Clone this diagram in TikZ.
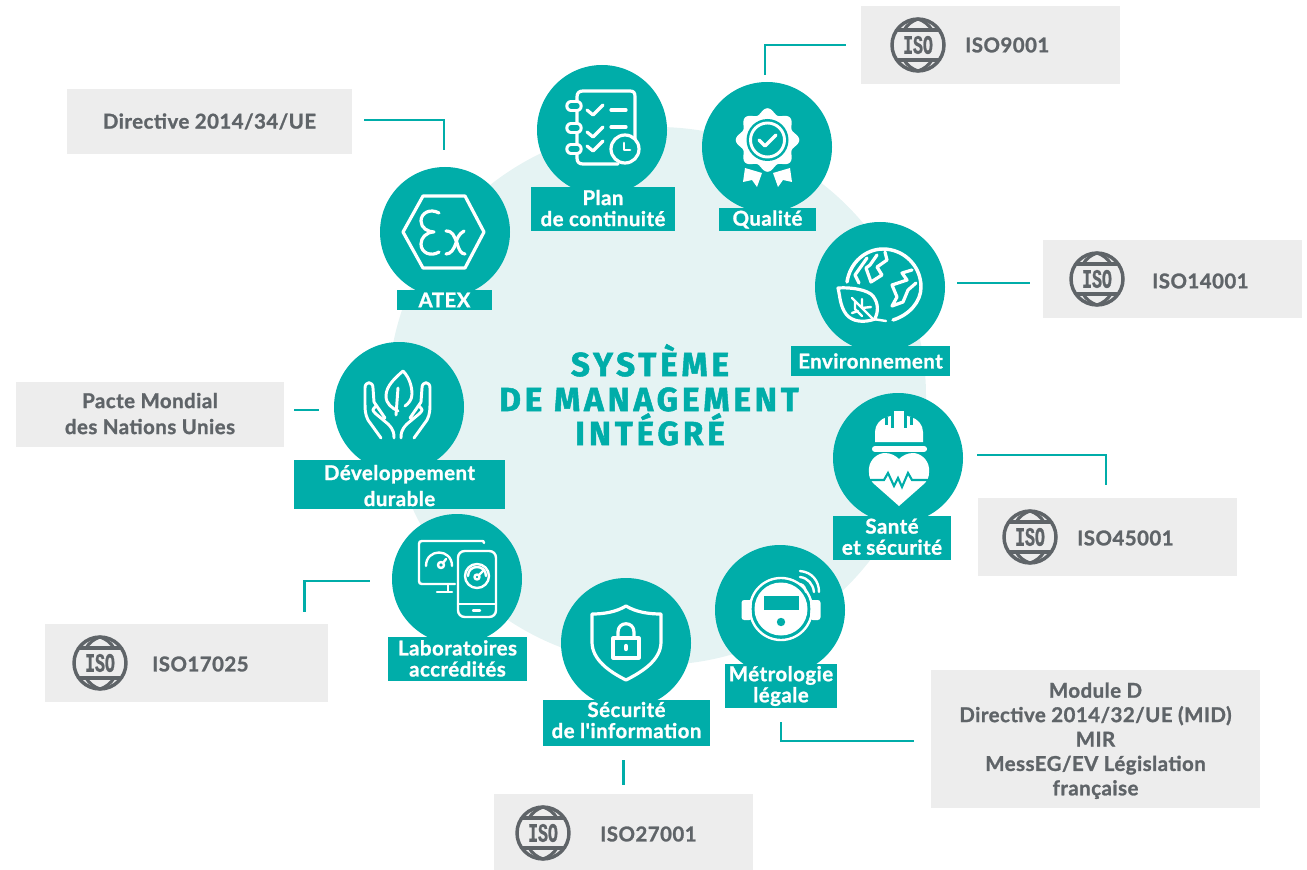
\documentclass[tikz,border=0pt]{standalone}
\usepackage{fontspec}
\setmainfont{Lato}[Ligatures=TeXOff,BoldFeatures={FakeBold=1.2,LetterSpace=2.4}]
\newfontfamily\titlefont[LetterSpace=11.5,BoldFeatures={FakeBold=1.5}]{Fira Sans}
\newfontfamily\isofont[FakeStretch=0.62,BoldFeatures={FakeBold=0.8}]{Liberation Mono}
\definecolor{tealc}{HTML}{00ADA9}
\definecolor{palec}{HTML}{E5F3F3}
\definecolor{boxc}{HTML}{EDEDED}
\definecolor{greyt}{HTML}{5F6468}
\newcommand{\lowdepth}[1]{\rule[-#1pt]{0pt}{0pt}}
\newcommand{\topheight}[1]{\rule{0pt}{#1pt}}
\tikzset{
 disc/.style={circle,fill=tealc,minimum size=97.5pt,inner sep=0pt},
 lab/.style={fill=tealc,text=white,inner sep=0pt,align=center,font=\fontsize{15.3}{15.8}\selectfont\bfseries},
 gbox/.style={fill=boxc,text=greyt,inner sep=0pt,align=center,font=\fontsize{15.3}{18.3}\selectfont\bfseries},
 conn/.style={draw=tealc,line width=1.6pt},
 ico/.style={draw=white,line width=2.4pt,line cap=round,line join=round},
 icob/.style={draw=white,line width=1.8pt,line cap=round,line join=round},
 icoT/.style={draw=tealc,line width=1.6pt,line cap=round,line join=round},
 isoname/.style={text=greyt,inner sep=0pt,anchor=west,font=\fontsize{15.3}{16}\selectfont\bfseries},
 titl/.style={text=tealc,inner sep=0pt,anchor=base,font=\fontsize{25}{26}\titlefont\bfseries},
 pics/isoglobe/.style={code={
   \draw[greyt,line width=2.6pt] (0,0) circle (26);
   \draw[greyt,line width=2.3pt] (-22,-15) -- (22,-15) (-22,15) -- (22,15);
   \draw[greyt,line width=2.3pt] (-14,-15) .. controls (-11,-20) and (-6,-24) .. (0,-26) .. controls (6,-24) and (11,-20) .. (14,-15);
   \draw[greyt,line width=2.3pt] (-14,15) .. controls (-11,20) and (-6,24) .. (0,26) .. controls (6,24) and (11,20) .. (14,15);
   \node[text=greyt,inner sep=0pt,font=\fontsize{20}{21}\isofont\bfseries] (-t) at (0,0) {ISO};
 }},
}
\begin{document}
\begin{tikzpicture}[x=0.75pt,y=-0.75pt]
\useasboundingbox (0,0) rectangle (1307,870);
\fill[palec] (657,396) circle (269);
% discs
\node[disc] (atex) at (445,232) {};
\node[disc] (plan) at (602,130) {};
\node[disc] (qual) at (767,147) {};
\node[disc] (env) at (880,287) {};
\node[disc] (sante) at (898,458) {};
\node[disc] (metro) at (780,610) {};
\node[disc] (secu) at (626,643) {};
\node[disc] (labo) at (457,579) {};
\node[disc] (dev) at (399,407) {};
% labels
\node[lab,minimum width=71.25pt,minimum height=15pt] (atexl) at (444.5,300) {ATEX};
\node[lab,minimum width=108pt,minimum height=33pt] (planl) at (603,209) {Plan\\de continuité\lowdepth{1.5}};
\node[lab,minimum width=72.75pt,minimum height=17.25pt] (quall) at (767.5,219.5) {Qualité};
\node[lab,minimum width=119.25pt,minimum height=22.5pt] (envl) at (870.5,361) {Environnement};
\node[lab,minimum width=88.5pt,minimum height=33pt] (santel) at (892,538) {Santé\\et sécurité\lowdepth{2}};
\node[lab,minimum width=84pt,minimum height=33pt] (metrol) at (781,686) {Métrologie\\légale};
\node[lab,minimum width=125.25pt,minimum height=34.5pt] (secul) at (626.5,723) {Sécurité\\de l'information\lowdepth{4.5}};
\node[lab,minimum width=104.25pt,minimum height=33pt] (labol) at (457.5,659) {Laboratoires\\accrédités\lowdepth{1}};
\node[lab,minimum width=158.25pt,minimum height=36.75pt,font=\fontsize{15.3}{19.5}\selectfont\bfseries] (devl) at (399.5,484.5) {\topheight{13}Développement\\durable};
% grey boxes
\node[gbox,minimum width=213.75pt,minimum height=48.75pt] (dir) at (209.5,121.5) {Directive 2014/34/UE};
\node[gbox,minimum width=201pt,minimum height=48.75pt,font=\fontsize{15.3}{19.5}\selectfont\bfseries] (pacte) at (150,414.5) {Pacte Mondial\\des Nations Unies\lowdepth{1.5}};
\node[gbox,minimum width=246.75pt,minimum height=103.5pt] (mod) at (1095.5,739) {\topheight{14}Module D\\Directive 2014/32/UE (MID)\\MIR\\MessEG/EV Législation\\française};
\node[gbox,minimum width=194.25pt,minimum height=58.5pt] (i9) at (990.5,45) {};
\node[gbox,minimum width=194.25pt,minimum height=58.5pt] (i14) at (1172.5,279) {};
\node[gbox,minimum width=194.25pt,minimum height=58.5pt] (i45) at (1107.5,537) {};
\node[gbox,minimum width=212.25pt,minimum height=58.5pt] (i17) at (186.5,663) {};
\node[gbox,minimum width=194.25pt,minimum height=57pt] (i27) at (623.5,832) {};
\pic (g9) at (918,45) {isoglobe};
\pic (g14) at (1097,279) {isoglobe};
\pic (g45) at (1030,537) {isoglobe};
\pic (g17) at (100,663) {isoglobe};
\pic (g27) at (543,833) {isoglobe};
\node[isoname] (n9) at (965,45) {ISO9001};
\node[isoname] (n14) at (1152,281) {ISO14001};
\node[isoname] (n45) at (1077,538) {ISO45001};
\node[isoname] (n17) at (152,664) {ISO17025};
\node[isoname] (n27) at (600,834) {ISO27001};
% connectors
\draw[conn,shorten <=9pt,shorten >=12.75pt] ([yshift=1pt]dir.east) -| ([xshift=-0.75pt]atex.north);
\draw[conn,shorten <=11.25pt,shorten >=5.25pt] (i9.west) -| ([xshift=-1.5pt]qual.north);
\draw[conn,shorten <=9.75pt,shorten >=9pt] ([yshift=-3pt]i14.west) -- ([yshift=-3pt]i14.west -| env.east);
\draw[conn,shorten <=10.5pt,shorten >=9.75pt] ([yshift=2.25pt]sante.east) -| ([xshift=-1pt]i45.north);
\draw[conn,shorten <=7.5pt,shorten >=11pt] ([yshift=3.4pt]pacte.east) -- ([yshift=3.4pt]pacte.east -| dev.west);
\draw[conn,shorten <=16.5pt,shorten >=9pt] ([yshift=-1.5pt]labo.west) -| ([xshift=88.5pt]i17.north);
\draw[conn,shorten <=6.75pt,shorten >=10.5pt] (i27.north) -- (i27.north |- secul.south);
\draw[conn,shorten <=10.5pt,shorten >=12.75pt] (metrol.south) |- ([yshift=-1.5pt]mod.west);
% title
\node[titl] (t1) at (650,376) {SYSTÈME};
\node[titl] (t2) at (649,411) {DE MANAGEMENT};
\node[titl] (t3) at (650,445) {INTÉGRÉ};
% ---- icons
% ATEX
\draw[ico] (403,232) -- (423,196) -- (465,196) -- (484,232) -- (465,268) -- (423,268) -- cycle;
\draw[ico] (439,213) .. controls (430,208) and (421,213) .. (421,221) .. controls (421,228) and (428,232) .. (434,232) .. controls (426,232) and (421,238) .. (421,244) .. controls (421,253) and (431,257) .. (439,252);
\draw[ico] (446,231) .. controls (453,231) and (454,236) .. (457,243) .. controls (459,250) and (461,254) .. (465,254);
\draw[ico] (464,231) .. controls (459,234) and (457,238) .. (456,243) .. controls (454,249) and (451,254) .. (446,254);
% Plan
\draw[ico] (577,100) -- (577,97) .. controls (577,93) and (579,91) .. (583,91) -- (630,91) .. controls (634,91) and (635,93) .. (635,97) -- (635,140);
\draw[ico] (577,100) -- (577,158) .. controls (577,162) and (579,164) .. (583,164) -- (618,164);
\foreach \yy/\nn in {106/a,128/b,149/c}{
  \draw[white,line width=8.6pt,line cap=round] (571,\yy) -- (577,\yy);
  \draw[tealc,line width=4pt,line cap=round] (571,\yy) -- (577,\yy);
}
\foreach \yy in {110,132,146}{\draw[ico] (587,\yy) -- (593,\yy+5) -- (603,\yy-5);}
\draw[ico] (611,110) -- (626,110) (611,127) -- (626,127);
\draw[ico,fill=tealc] (625,149) circle (14);
\draw[ico,line width=2pt] (624,143) -- (624,150) -- (630,150);
% Qualite
\fill[white,smooth] plot[domain=0:360,samples=97,variable=\t] ({767.5+29*cos(\t)+2.8*cos(8*\t)*cos(\t)},{140+29*sin(\t)+2.8*cos(8*\t)*sin(\t)}) -- cycle;
\fill[tealc] (767.5,140) circle (21);
\draw[white,line width=2.2pt] (767.5,140) circle (17);
\draw[ico,line width=2.6pt] (759,140) -- (765,146) -- (776,135);
\fill[white] (745,168) -- (762,173) -- (757,187) -- (752,180) -- (743,182) -- cycle;
\fill[white] (790,168) -- (773,173) -- (778,187) -- (783,180) -- (792,182) -- cycle;
% Environnement
\draw[ico,line width=2.6pt] (847,282) .. controls (850,262) and (866,249) .. (883,249) .. controls (904,249) and (921,266) .. (921,287) .. controls (921,302) and (909,315) .. (893,320);
\draw[ico] (867,258) -- (855,275) -- (859,283);
\draw[ico] (877,255) -- (870,265) -- (866,268) -- (871,282) -- (882,275) -- (877,267) -- (887,260) -- (885,252);
\draw[ico] (912,270) -- (902,273) -- (907,280) -- (892,285) -- (897,297) -- (892,306) -- (903,302) -- (908,290) -- (916,283);
\draw[ico,fill=tealc] (838,288) .. controls (852,287) and (868,290) .. (873,296) .. controls (879,304) and (878,312) .. (875,319) .. controls (864,323) and (852,322) .. (846,314) .. controls (840,306) and (840,296) .. (838,288) -- cycle;
\draw[icob] (852,298) -- (873,319) -- (886,321) (862,299) -- (862,308) (862,308) -- (871,307) (855,302) -- (855,309) (855,309) -- (862,316) (852,313) -- (858,311);
% Sante
\fill[white] (875,442) -- (875,432) .. controls (875,425) and (880,419) .. (887,417) -- (894,415) -- (894,411) -- (904,411) -- (904,415) -- (911,417) .. controls (918,419) and (923,425) .. (923,432) -- (923,442) -- cycle;
\draw[tealc,line width=1.6pt] (892.5,410) -- (892.5,428) (905.5,410) -- (905.5,428) (886.5,417) -- (886.5,425) (911.5,417) -- (911.5,425);
\draw[white,line width=4.6pt,line cap=round] (875,449) -- (924,449);
\fill[white] (899,506) -- (873,483) .. controls (868,478) and (869,472) .. (869,468) .. controls (870,459) and (878,453) .. (885,453) .. controls (891,453) and (896,456) .. (899,459) .. controls (902,456) and (907,453) .. (913,453) .. controls (920,453) and (928,459) .. (929,468) .. controls (929,472) and (930,478) .. (925,483) -- cycle;
\draw[icoT,line join=miter] (868,480) -- (884,480) -- (888,473) -- (894,486) -- (898,478) -- (902,487) -- (908,473) -- (912,480) -- (930,480);
% Developpement
\draw[ico,line width=2.2pt] (403,371) .. controls (395,378) and (386,386) .. (386,396) .. controls (386,404) and (392,408) .. (398,411) (403,371) .. controls (410,378) and (412,388) .. (412,394) .. controls (412,400) and (408,404) .. (405,406) (398,388) -- (396,415);
\draw[ico,line width=2.2pt] (381,438) -- (368,420) .. controls (365,414) and (365,410) .. (365,400) -- (365,388) .. controls (365,381) and (373,381) .. (373,388) -- (374,402) -- (385,418) (376,406) .. controls (372,410) and (372,410) .. (376,414) -- (388,424) .. controls (394,430) and (394,434) .. (394,438);
\draw[ico,line width=2.2pt] (414,438) -- (427,420) .. controls (430,414) and (430,410) .. (430,400) -- (430,388) .. controls (430,381) and (422,381) .. (422,388) -- (421,402) -- (410,418) (419,406) .. controls (423,410) and (423,410) .. (419,414) -- (407,424) .. controls (401,430) and (401,434) .. (401,438);
% Laboratoires
\draw[icob] (484,543) .. controls (484,541) and (483,541) .. (482,541) -- (422,541) .. controls (420,541) and (419,542) .. (419,544) -- (419,581) .. controls (419,583) and (420,584) .. (422,584) -- (455,584);
\draw[icob] (448,584) -- (448,591) (437,592) -- (452,592);
\draw[icob,rounded corners=5pt] (458,551) rectangle (496,617);
\draw[icob] (458,604) -- (496,604) (473,610.5) -- (480,610.5);
\draw[icob] (426,566) .. controls (426,548) and (452,548) .. (452,566);
\draw[icob] (441,565) circle (3) (443,563) -- (446,559);
\draw[icob] (477,576) circle (12);
\draw[icob] (468,576) .. controls (468,564) and (486,564) .. (486,576);
\draw[icob] (477,577) circle (2.5) (479,575) -- (484,570);
% Securite
\draw[ico] (626,606) .. controls (616,612) and (604,614) .. (592,614) -- (592,642) .. controls (592,660) and (610,672) .. (626,680) .. controls (642,672) and (661,660) .. (661,642) -- (661,614) .. controls (648,614) and (636,612) .. (626,606) -- cycle;
\draw[ico] (613,638) rectangle (639,658);
\draw[ico] (618,637) -- (618,632) .. controls (618,621) and (634,621) .. (634,632) -- (634,637);
\draw[white,line width=3.2pt,line cap=round] (626,646) -- (626,649);
% Metrologie
\draw[white,line width=1.8pt] (781,609) circle (31);
\fill[white] (781,609) circle (26.5);
\fill[white,rounded corners=2pt] (741.5,600) rectangle (752,620);
\fill[white,rounded corners=2pt] (810,600) rectangle (820.5,620);
\draw[tealc,line width=1.2pt] (781,609) circle (28.5);
\fill[tealc] (764,596) rectangle (798.5,610);
\fill[tealc] (781,622) circle (4.2);
\draw[icob] (800,584) .. controls (804,585) and (805,588) .. (806,592);
\draw[icob] (800,577) .. controls (808,578) and (813,584) .. (814,592);
\draw[icob] (800,571) .. controls (812,572) and (819,581) .. (819,592);
\end{tikzpicture}
\end{document}
